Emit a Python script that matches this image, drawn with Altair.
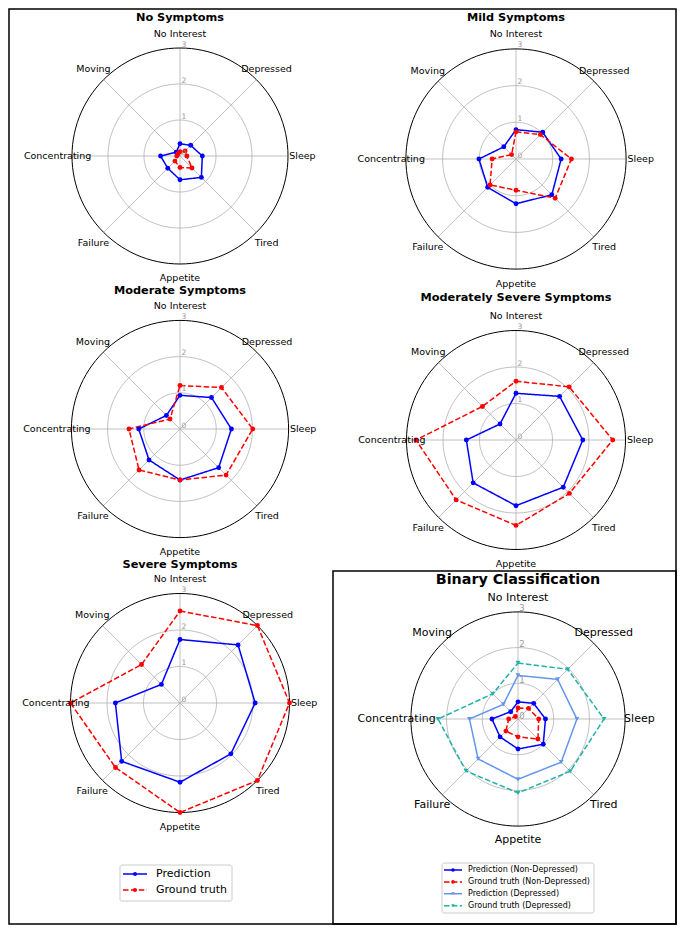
import altair as alt
import pandas as pd

# ---------------- data ----------------
categories = ["No Interest", "Depressed", "Sleep", "Tired", "Appetite",
              "Failure", "Concentrating", "Moving"]
panel_titles = ["No Symptoms", "Mild Symptoms", "Moderate Symptoms",
                "Moderately Severe Symptoms", "Severe Symptoms",
                "Binary Classification"]
tick_values = [0, 1, 2, 3]

pred_no = [0.34, 0.42, 0.62, 0.84, 0.66, 0.48, 0.54, 0.15]
gt_no = [0.12, 0.20, 0.19, 0.47, 0.32, 0.20, 0.09, 0.08]
pred_mild = [0.80, 1.03, 1.23, 1.38, 1.22, 1.09, 1.01, 0.47]
gt_mild = [0.74, 0.94, 1.51, 1.51, 0.85, 1.00, 0.65, 0.17]
pred_mod = [0.93, 1.23, 1.42, 1.51, 1.41, 1.21, 1.14, 0.53]
gt_mod = [1.20, 1.62, 2.01, 1.80, 1.41, 1.60, 1.41, 0.39]
pred_modsev = [1.28, 1.69, 1.83, 1.83, 1.80, 1.66, 1.36, 0.62]
gt_modsev = [1.61, 2.06, 2.65, 2.07, 2.34, 2.32, 2.74, 1.30]
pred_sev = [1.74, 2.25, 2.06, 1.97, 2.17, 2.26, 1.77, 0.72]
gt_sev = [2.52, 3.00, 3.00, 3.00, 3.00, 2.50, 3.00, 1.49]
pred_nondep = [0.48, 0.62, 0.77, 1.00, 0.84, 0.71, 0.73, 0.29]
gt_nondep = [0.31, 0.42, 0.58, 0.79, 0.50, 0.48, 0.26, 0.10]
pred_dep = [1.22, 1.57, 1.65, 1.71, 1.69, 1.58, 1.36, 0.58]
gt_dep = [1.57, 1.97, 2.41, 2.07, 2.07, 2.06, 2.24, 1.00]

legend1_labels = ["Prediction", "Ground truth"]
legend2_labels = ["Prediction (Non-Depressed)", "Ground truth (Non-Depressed)",
                  "Prediction (Depressed)", "Ground truth (Depressed)"]

# ---------------- styles ----------------
series_keys = ["pred", "gt", "pred_d", "gt_d"]
series_colors = ["#0000ff", "#ff0000", "#6495ed", "#20b2aa"]
series_dash = [[1, 0], [5.5, 2.4], [1, 0], [5.5, 2.4]]
series_shape = ["circle", "circle", "triangle-down", "triangle-down"]
FONT = "DejaVu Sans"

# ---------------- layout (page pixels) ----------------
layout = pd.DataFrame({
    "panel": [0, 1, 2, 3, 4, 5],
    "title": panel_titles,
    "cx": [180, 516, 180, 516, 180, 518],
    "cy": [156, 159, 429, 440, 703, 719],
    "unit": [36.0, 36.7, 36.2, 36.5, 36.5, 35.7],
    "title_y": [17.5, 17.5, 291, 298, 565, 580],
    "title_size": [11.3, 11.3, 11.3, 11.3, 11.3, 14.3],
    "label_size": [9.5, 9.5, 9.5, 9.5, 9.5, 11],
    "tick_size": [7.5, 7.5, 7.5, 7.5, 7.5, 8.5],
})

W, H = 667, 915
X0, Y0 = 9, 9
xs = alt.Scale(domain=[X0, X0 + W], nice=False, zero=False)
ys = alt.Scale(domain=[Y0, Y0 + H], nice=False, zero=False, reverse=True)
X = lambda f: alt.X(f, type="quantitative", scale=xs, axis=None)
Y = lambda f: alt.Y(f, type="quantitative", scale=ys, axis=None)

color_enc = alt.Color("series:N", scale=alt.Scale(domain=series_keys, range=series_colors), legend=None)
dash_enc = alt.StrokeDash("series:N", scale=alt.Scale(domain=series_keys, range=series_dash), legend=None)
shape_enc = alt.Shape("series:N", scale=alt.Scale(domain=series_keys, range=series_shape), legend=None)

# ---------------- series table ----------------
series_list = [
    (0, "pred", pred_no), (0, "gt", gt_no),
    (1, "pred", pred_mild), (1, "gt", gt_mild),
    (2, "pred", pred_mod), (2, "gt", gt_mod),
    (3, "pred", pred_modsev), (3, "gt", gt_modsev),
    (4, "pred", pred_sev), (4, "gt", gt_sev),
    (5, "pred", pred_nondep), (5, "gt", gt_nondep),
    (5, "pred_d", pred_dep), (5, "gt_d", gt_dep),
]
rows = []
for order, (p, key, vals) in enumerate(series_list):
    for i in range(len(categories) + 1):
        rows.append({"panel": p, "series": key, "key": f"{p}_{key}", "z": order,
                     "idx": i, "value": vals[i % len(categories)]})
sdf = pd.DataFrame(rows).merge(layout, on="panel")

polar = {
    "px": "datum.cx + datum.unit * datum.value * sin(datum.idx * PI / 4)",
    "py": "datum.cy - datum.unit * datum.value * cos(datum.idx * PI / 4)",
}

lines = alt.Chart(sdf).transform_calculate(**polar).mark_line(strokeWidth=1.5).encode(
    x=X("px"), y=Y("py"), order="idx:Q", detail="key:N", color=color_enc, strokeDash=dash_enc)
points = alt.Chart(sdf).transform_filter("datum.idx < 8").transform_calculate(**polar).mark_point(
    filled=True, opacity=1, size=24).encode(
    x=X("px"), y=Y("py"), color=color_enc, shape=shape_enc)

# ---------------- grid ----------------
ring_rows = []
for p in layout["panel"]:
    for r in [1, 2, 3]:
        for d in range(0, 361, 3):
            ring_rows.append({"panel": p, "ring": r, "deg": d, "rk": f"{p}_{r}"})
rdf = pd.DataFrame(ring_rows).merge(layout, on="panel")
ring_calc = {
    "px": "datum.cx + datum.unit * datum.ring * sin(datum.deg * PI / 180)",
    "py": "datum.cy - datum.unit * datum.ring * cos(datum.deg * PI / 180)",
}
rings_inner = alt.Chart(rdf).transform_filter("datum.ring < 3").transform_calculate(**ring_calc).mark_line(
    stroke="#b0b0b0", strokeWidth=0.8).encode(x=X("px"), y=Y("py"), order="deg:Q", detail="rk:N")
ring_outer = alt.Chart(rdf).transform_filter("datum.ring == 3").transform_calculate(**ring_calc).mark_line(
    stroke="black", strokeWidth=1).encode(x=X("px"), y=Y("py"), order="deg:Q", detail="rk:N")

cat_rows = []
for p in layout["panel"]:
    for i, c in enumerate(categories):
        cat_rows.append({"panel": p, "idx": i, "category": c})
cdf = pd.DataFrame(cat_rows).merge(layout, on="panel")
spokes = alt.Chart(cdf).transform_calculate(
    x2="datum.cx + datum.unit * 3 * sin(datum.idx * PI / 4)",
    y2="datum.cy - datum.unit * 3 * cos(datum.idx * PI / 4)",
).mark_rule(stroke="#b0b0b0", strokeWidth=0.8).encode(
    x=X("cx"), y=Y("cy"), x2="x2:Q", y2="y2:Q")

labels = alt.Chart(cdf).transform_calculate(
    px="datum.cx + datum.unit * 3.4 * sin(datum.idx * PI / 4)",
    py="datum.cy - datum.unit * 3.4 * cos(datum.idx * PI / 4)",
).mark_text(font=FONT, color="black", align="center", baseline="middle").encode(
    x=X("px"), y=Y("py"), text="category:N", size=alt.Size("label_size:Q", scale=None))

tick_rows = []
for p in layout["panel"]:
    for t in tick_values:
        tick_rows.append({"panel": p, "tick": t})
tdf = pd.DataFrame(tick_rows).merge(layout, on="panel")
ticks = alt.Chart(tdf).transform_calculate(
    px="datum.cx + 4",
    py="datum.cy - datum.unit * datum.tick - 3.5",
    tl="''+datum.tick",
).mark_text(font=FONT, color="#999999", align="center", baseline="middle").encode(
    x=X("px"), y=Y("py"), text="tl:N", size=alt.Size("tick_size:Q", scale=None))

titles = alt.Chart(layout).mark_text(font=FONT, fontWeight="bold", color="black",
                                     align="center", baseline="middle").encode(
    x=X("cx"), y=Y("title_y"), text="title:N", size=alt.Size("title_size:Q", scale=None))

# ---------------- binary panel box ----------------
box_df = pd.DataFrame({"x": [333], "x2": [676], "y": [571], "y2": [924]})
binary_box = alt.Chart(box_df).mark_rect(filled=False, stroke="black", strokeWidth=1.5).encode(
    x=X("x"), x2="x2:Q", y=Y("y"), y2="y2:Q")

# ---------------- legends ----------------
leg_layout = pd.DataFrame({
    "legend": [1, 2],
    "bx": [120, 442], "bx2": [232, 594], "by": [865, 863], "by2": [901, 913],
    "lx": [123, 444], "lx2": [147, 462], "tx": [156, 468],
    "ly0": [874, 870], "ldy": [16, 11.9], "fs": [11, 8], "ms": [16, 13],
})
leg_rows = []
for i, lab in enumerate(legend1_labels):
    leg_rows.append({"legend": 1, "row": i, "label": lab, "series": series_keys[i]})
for i, lab in enumerate(legend2_labels):
    leg_rows.append({"legend": 2, "row": i, "label": lab, "series": series_keys[i]})
ldf = pd.DataFrame(leg_rows).merge(leg_layout, on="legend")
leg_calc = {"ly": "datum.ly0 + datum.row * datum.ldy", "mx": "(datum.lx + datum.lx2) / 2"}

leg_boxes = alt.Chart(leg_layout).mark_rect(fill="white", stroke="#cccccc", strokeWidth=1,
                                            cornerRadius=2).encode(
    x=X("bx"), x2="bx2:Q", y=Y("by"), y2="by2:Q")
leg_lines = alt.Chart(ldf).transform_calculate(**leg_calc).mark_rule(strokeWidth=1.5).encode(
    x=X("lx"), x2="lx2:Q", y=Y("ly"), color=color_enc, strokeDash=dash_enc)
leg_marks = alt.Chart(ldf).transform_calculate(**leg_calc).mark_point(filled=True, opacity=1).encode(
    x=X("mx"), y=Y("ly"), color=color_enc, shape=shape_enc, size=alt.Size("ms:Q", scale=None))
leg_text = alt.Chart(ldf).transform_calculate(**leg_calc).mark_text(
    font=FONT, color="black", align="left", baseline="middle").encode(
    x=X("tx"), y=Y("ly"), text="label:N", size=alt.Size("fs:Q", scale=None))

chart = alt.layer(
    rings_inner, spokes, ring_outer, binary_box, lines, points, ticks, labels, titles,
    leg_boxes, leg_lines, leg_marks, leg_text,
).properties(
    width=W, height=H,
    autosize=alt.AutoSizeParams(type="none"),
    padding={"left": 1, "top": 1, "right": 1, "bottom": 1},
).configure_view(stroke="black", strokeWidth=1.5)

chart.save("out.html", embed_options={"renderer": "svg", "actions": False})
